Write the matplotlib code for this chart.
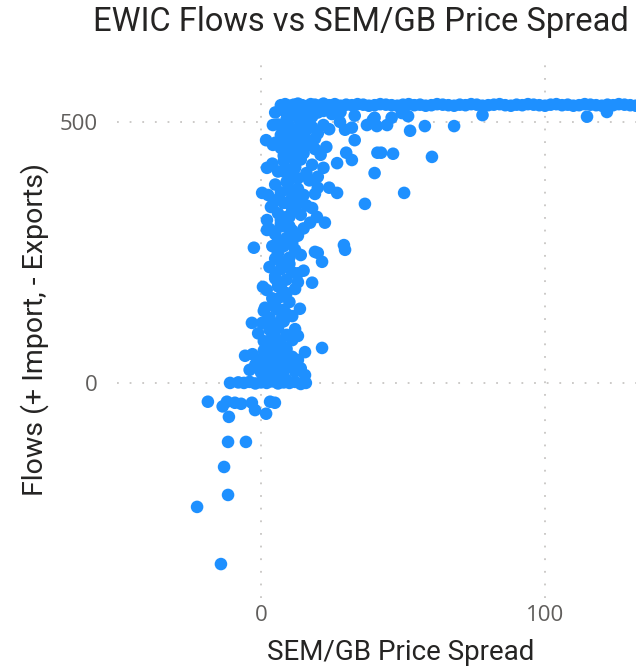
import matplotlib
matplotlib.use("Agg")
import matplotlib.pyplot as plt

# Flows at interconnector capacity (top band)
cap_x = [7, 8.5, 10, 11.5, 13, 14.5, 16, 17.5, 19, 20.5, 22, 24, 26, 28, 30, 32, 34, 36,
         38, 40, 42, 44, 46, 48, 50, 52, 54, 56, 58, 60, 62, 64, 66, 68, 70, 72, 74, 76,
         78, 80, 82, 84, 86, 88, 90, 92, 94, 96, 98, 100, 102, 104, 106, 108, 110, 112,
         114, 116, 118, 120, 122, 124, 126, 128, 130, 132, 134]
cap_y = [532, 534, 531, 533, 535, 532, 530, 534, 533, 531, 535, 532, 534, 531, 533, 532,
         534, 533, 531, 532, 534, 533, 532, 531, 533, 534, 532, 533, 531, 532, 534, 533,
         532, 531, 533, 532, 534, 533, 531, 532, 533, 534, 532, 531, 533, 532, 534, 533,
         532, 531, 533, 534, 532, 533, 531, 532, 534, 533, 532, 531, 533, 532, 534, 533,
         532, 531, 533]

# Main cloud of import flows
flow_x = [27.8, 29.6, 32, 33, 30, 32, 26.8, 40, 36.6, 41, 37.3, 39.4, 24, 26.8, 20, 22.5,
          17.3, 19.7, 29.2, 19, 42.3, 46.5, 40, 40.8, 44.4, 46, 49.6, 51.8, 52.5, 57.7,
          60.2, 68, 78, 114.8, 121.8, 50.4, 4.2, 1.8, 4.2, 2.1, 0.4, 2.5, 3.5, 2.1, 2.1,
          -2.5, 21.5, 20, 29.6, 13, 18, 0.7, 1.4, 13.7, 0.4, -3.2, 12, 21.5, 15.5, -5.6,
          15.5, 15.8, -10.9,
          5, 8, 10, 12, 14, 16, 18, 20, 22, 25, 28, 33, 9, 13, 17,
          6, 8, 10, 12, 14, 16, 18, 20, 22, 24, 7, 11, 15, 19,
          5, 7, 9, 11, 13, 15, 17, 19, 21, 23, 8, 12, 16,
          4, 6, 8, 10, 12, 14, 16, 18, 20, 9, 13, 22,
          5, 7, 9, 11, 13, 15, 17, 6, 10, 14, 19,
          4, 6, 8, 10, 12, 14, 16, 7, 11, 18, 9,
          3, 5, 7, 9, 11, 13, 6, 10, 15,
          4, 6, 8, 10, 12, 7, 5, 11, 14,
          3, 5, 7, 9, 11, 6, 8, 13, 15,
          2, 4, 6, 8, 10, 5, 7, 12,
          1, 3, 5, 7, 9, 4, 8, 11,
          -1, 1, 3, 5, 7, 9, 11, 2, 6, 13,
          -3, -1, 1, 3, 5, 7, 9, 11, 13, 4, 8,
          -4, -2, 0, 2, 4, 6, 8, 10, 12, 14, 3,
          -8, -6, -4, -2, 0, 2, 4, 6, 8, 10, 12, 14, 1, 5, 9,
          # extra density in the core of the cloud
          9, 11, 13, 15, 10, 12, 14, 8, 10, 12, 9, 11, 13, 7, 9, 11, 6, 8, 10, 5, 7, 9,
          6, 8, 4, 6, 8, 3, 5, 7, 2, 4, 6, 1, 3, 5]
flow_y = [500, 485, 489, 465, 441, 427, 421, 402, 343, 441, 494, 504, 374, 364, 374, 307,
          307, 318, 264, 251, 441, 439, 508, 492, 494, 508, 517, 511, 483, 492,
          433, 492, 513, 510, 519, 364, 494, 465, 456, 412, 364, 360, 337, 312, 293,
          259, 232, 249, 255, 193, 192, 184, 144, 142, 115, 115, 103, 67, 59, 52,
          15, 0, 0,
          518, 522, 512, 520, 515, 523, 510, 518, 521, 515, 519, 512, 505, 508, 503,
          495, 488, 492, 480, 497, 485, 490, 478, 494, 486, 475, 470, 473, 468,
          460, 450, 462, 445, 455, 440, 458, 448, 437, 452, 435, 432, 465,
          420, 405, 425, 398, 415, 428, 402, 418, 395, 410, 392, 412,
          380, 365, 385, 355, 372, 360, 388, 352, 370, 350, 362,
          340, 325, 345, 318, 335, 322, 340, 312, 330, 335, 300,
          295, 285, 305, 278, 292, 282, 272, 300, 296,
          262, 248, 265, 240, 255, 232, 238, 268, 245,
          222, 205, 218, 198, 212, 192, 228, 210, 215,
          178, 162, 185, 170, 155, 150, 165, 180,
          138, 125, 145, 120, 132, 112, 140, 128,
          95, 80, 102, 88, 75, 92, 82, 72, 105, 90,
          55, 45, 62, 48, 58, 42, 65, 50, 44, 68, 52,
          25, 35, 20, 30, 18, 38, 24, 33, 22, 28, 40,
          1, 0, 2, -1, 1, 0, 3, -1, 1, 0, 2, -2, 8, 10, 6,
          475, 462, 480, 470, 440, 425, 448, 405, 388, 412, 345, 362, 350, 300, 318, 288,
          250, 262, 228, 200, 185, 172, 140, 118, 92, 78, 66, 55, 35, 28, 40, 15, 12, 20,
          8, 5]

# Export flows (negative spread)
export_x = [-22.5, -14.1, -11.6, -13.0, -11.6, -5.3, -18.7, -12, -11.3, -9.2, -3.2, -2.1,
            1.8, 3.2, 4.9, -13.5, -7]
export_y = [-237.5, -347, -214.6, -161, -113, -113, -36, -36, -65, -38, -38, -52,
            -59, -36, -38, -45, -40]

fig = plt.figure(figsize=(6.36, 6.70), dpi=100)
ax = fig.add_axes([117 / 636, 72 / 670, 568 / 636, 533 / 670])

ax.scatter(cap_x + flow_x + export_x, cap_y + flow_y + export_y,
           s=82, color="#1E90FF", edgecolors="none", zorder=3)

ax.set_xlim(-50.7, 149.3)
ax.set_ylim(-412, 609)
ax.set_xticks([0, 100])
ax.set_yticks([0, 500])
ax.grid(True, color="#c8c6c4", linestyle=(0, (1, 6)), linewidth=1.3, zorder=0)
for s in ax.spines.values():
    s.set_visible(False)
ax.tick_params(length=0, labelsize=16, labelcolor="#605E5C", pad=5)
ax.tick_params(axis="y", pad=14)
for lab in ax.get_xticklabels() + ax.get_yticklabels():
    lab.set_family("Open Sans")

fig.text(361 / 636, 1 - 22 / 670, "EWIC Flows vs SEM/GB Price Spread",
         ha="center", va="center", fontsize=23.5, family="Roboto", color="#252423")
fig.text(401 / 636, 1 - 652 / 670, "SEM/GB Price Spread",
         ha="center", va="center", fontsize=20, family="Roboto", color="#252423")
fig.text(35 / 636, 1 - 330 / 670, "Flows (+ Import, - Exports)", rotation=90,
         ha="center", va="center", fontsize=20.5, family="Roboto", color="#252423")

fig.savefig("out.png", dpi=100)
